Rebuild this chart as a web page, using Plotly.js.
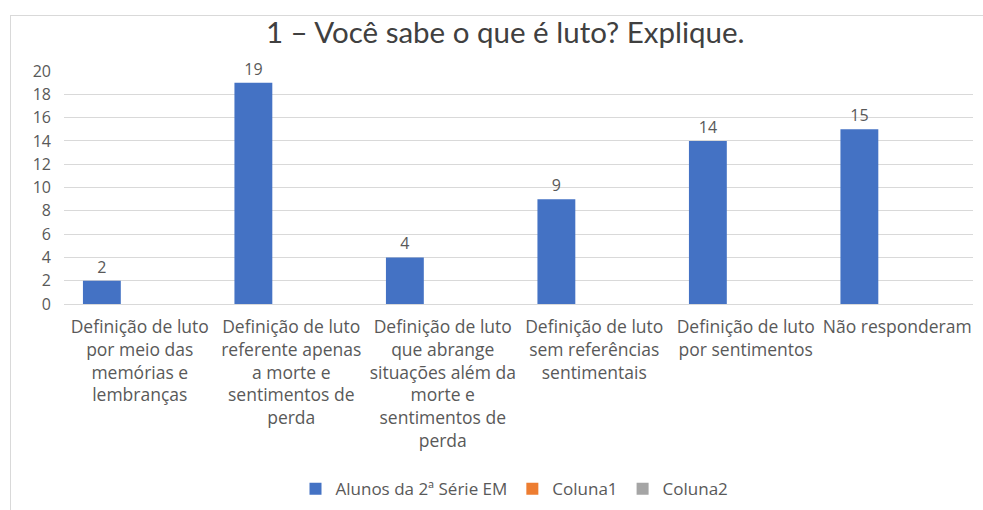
<!DOCTYPE html>
<html>
<head>
<meta charset="utf-8">
<script src="https://cdn.plot.ly/plotly-3.0.1.min.js"></script>
<style>
  html, body { margin: 0; padding: 0; background: #fff; }
  #chart { position: absolute; left: 0; top: 0; width: 983px; height: 510px; }
  #frame { position: absolute; left: 10px; top: 15px; width: 990px; height: 510px;
           border-left: 1px solid #d9d9d9; border-top: 1px solid #d9d9d9; pointer-events: none; }
</style>
</head>
<body>
<div id="chart"></div>
<div id="frame"></div>
<script>
const categories = [
  "Definição de luto<br>por meio das<br>memórias e<br>lembranças",
  "Definição de luto<br>referente apenas<br>a morte e<br>sentimentos de<br>perda",
  "Definição de luto<br>que abrange<br>situações além da<br>morte e<br>sentimentos de<br>perda",
  "Definição de luto<br>sem referências<br>sentimentais",
  "Definição de luto<br>por sentimentos",
  "Não responderam"
];
const alunos = [2, 19, 4, 9, 14, 15];
const coluna1 = [null, null, null, null, null, null];
const coluna2 = [null, null, null, null, null, null];
const yTicks = [0, 2, 4, 6, 8, 10, 12, 14, 16, 18, 20];

const textColor = "#595959";
const font = "Open Sans, sans-serif";

const traces = [
  { type: "bar", name: "Alunos da 2ª Série EM", x: categories, y: alunos,
    marker: { color: "#4472C4" }, text: alunos.map(String), textposition: "outside",
    cliponaxis: false, textfont: { family: font, size: 16, color: textColor } },
  { type: "bar", name: "Coluna1", x: categories, y: coluna1, marker: { color: "#ED7D31" } },
  { type: "bar", name: "Coluna2", x: categories, y: coluna2, marker: { color: "#A5A5A5" } }
];

const layout = {
  width: 983, height: 510,
  margin: { l: 64, r: 10, t: 71, b: 206, autoexpand: false },
  paper_bgcolor: "#fff", plot_bgcolor: "#fff",
  barmode: "group", bargap: 0.25, bargroupgap: 0,
  title: { text: "1 – Você sabe o que é luto? Explique.", font: { family: "Lato, sans-serif", size: 29.5, color: "#404040" },
           xref: "container", x: 0.514, xanchor: "center", yref: "container", y: 0.935, yanchor: "middle" },
  xaxis: { type: "category", tickfont: { family: font, size: 17.5, color: textColor },
           showgrid: false, showline: true, linecolor: "#d9d9d9", ticks: "", tickangle: 0,
           ticklabelstandoff: 7, fixedrange: true },
  yaxis: { range: [0, 20], tickvals: yTicks, ticktext: yTicks.map(String),
           tickfont: { family: font, size: 16, color: textColor },
           showgrid: true, gridcolor: "#d9d9d9", gridwidth: 1, zeroline: false,
           showline: false, ticks: "", ticklabelstandoff: 12, fixedrange: true },
  showlegend: true,
  legend: { orientation: "h", x: 0.4956, xanchor: "center", yref: "container", y: 0.041, yanchor: "middle",
            font: { family: font, size: 17, color: textColor }, traceorder: "normal" },
};

Plotly.newPlot("chart", traces, layout, { displayModeBar: false, staticPlot: true });
</script>
</body>
</html>
